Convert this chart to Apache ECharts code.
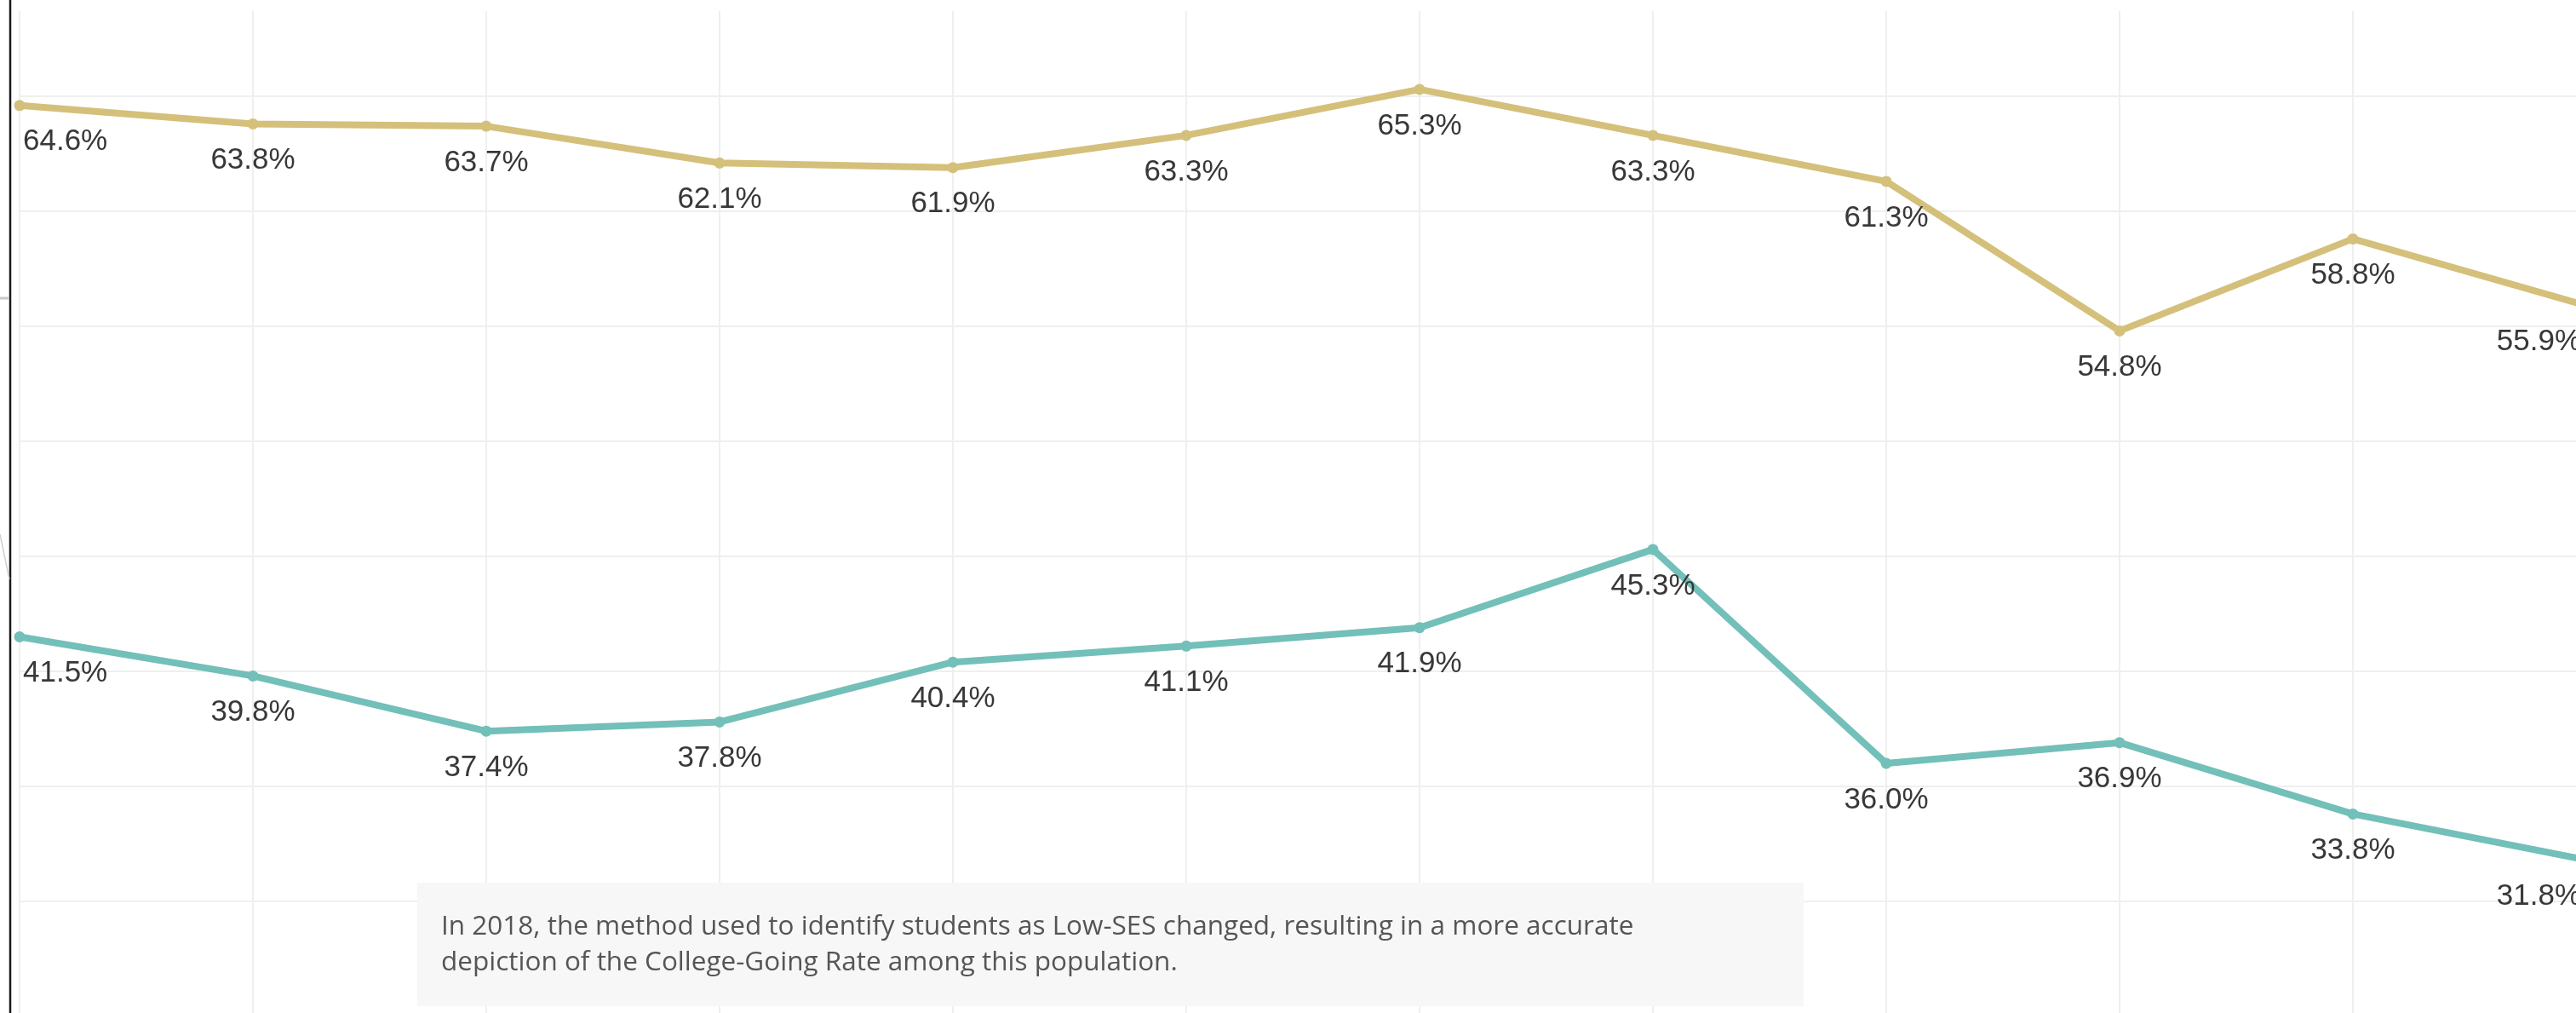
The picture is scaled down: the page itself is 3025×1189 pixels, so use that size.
<!DOCTYPE html>
<html>
<head>
<meta charset="utf-8">
<script src="https://cdn.jsdelivr.net/npm/echarts@6/dist/echarts.min.js"></script>
<style>
html,body{margin:0;padding:0;background:#ffffff;overflow:hidden;width:3025px;height:1189px;}
#chart{position:absolute;left:0;top:-22px;width:3037px;height:1215px;}
</style>
</head>
<body>
<div id="chart"></div>
<script>
// ---- data ----
const years = ['2010','2011','2012','2013','2014','2015','2016','2017','2018','2019','2020','2021'];
const allStudents = [64.6, 63.8, 63.7, 62.1, 61.9, 63.3, 65.3, 63.3, 61.3, 54.8, 58.8, 55.9];
const lowSES = [41.5, 39.8, 37.4, 37.8, 40.4, 41.1, 41.9, 45.3, 36.0, 36.9, 33.8, 31.8];
const yMin = 25, yMax = 70, yStep = 5;
const noteLines = [
  'In 2018, the method used to identify students as Low-SES changed, resulting in a more accurate',
  'depiction of the College-Going Rate among this population.'
];

// ---- styling ----
const GOLD = '#d4c07a';
const TEAL = '#73bfb9';
const LABEL_FONT = 'Liberation Sans, Arial, sans-serif';
const OY = 22; // chart canvas starts 22px above the page

function buildData(values) {
  const n = values.length;
  return values.map((v, i) => {
    const d = { value: v };
    if (i === 0) d.label = { align: 'left', offset: [4, 43] };
    else if (i === n - 1) d.label = { align: 'right', offset: [-6, 43] };
    return d;
  });
}

function lineSeries(name, values, color) {
  return {
    name: name,
    type: 'line',
    data: buildData(values),
    symbol: 'circle',
    symbolSize: 13,
    lineStyle: { color: color, width: 8 },
    itemStyle: { color: color },
    clip: true,
    z: 3,
    label: {
      show: true,
      position: 'inside',
      offset: [0, 43],
      color: '#383838',
      fontSize: 35,
      fontFamily: LABEL_FONT,
      formatter: p => p.value.toFixed(1) + '%'
    },
    emphasis: { disabled: true }
  };
}

const chart = echarts.init(document.getElementById('chart'), null, { renderer: 'canvas' });
chart.setOption({
  animation: false,
  backgroundColor: '#ffffff',
  grid: { left: 23, right: 0, top: 0, bottom: 0, containLabel: false },
  xAxis: {
    type: 'category',
    data: years,
    boundaryGap: false,
    axisLine: { show: false },
    axisTick: { show: false },
    axisLabel: { show: false },
    splitLine: { show: true, lineStyle: { color: '#efefef', width: 2 } }
  },
  yAxis: {
    type: 'value',
    min: yMin,
    max: yMax,
    interval: yStep,
    axisLine: { show: false },
    axisTick: { show: false },
    axisLabel: { show: false },
    splitLine: { show: true, lineStyle: { color: '#efefef', width: 2 } }
  },
  series: [
    lineSeries('All Students', allStudents, GOLD),
    lineSeries('Low-SES', lowSES, TEAL)
  ],
  graphic: [
    { type: 'rect', z: 50, shape: { x: 13, y: 0, width: 3030, height: OY + 13 }, style: { fill: '#ffffff' } },
    { type: 'rect', z: 60, shape: { x: 490, y: OY + 1036, width: 1628, height: 145 }, style: { fill: '#f7f7f7' } },
    { type: 'text', z: 61, x: 518, y: OY + 1088, style: { text: noteLines[0], fill: '#555555', font: '31.5px "Open Sans", Arial, sans-serif', verticalAlign: 'middle', align: 'left' } },
    { type: 'text', z: 61, x: 518, y: OY + 1130, style: { text: noteLines[1], fill: '#555555', font: '31.5px "Open Sans", Arial, sans-serif', verticalAlign: 'middle', align: 'left' } },
    { type: 'line', z: 70, shape: { x1: 12, y1: 0, x2: 12, y2: 1215 }, style: { stroke: '#1a1a1a', lineWidth: 2.5 } },
    { type: 'line', z: 70, shape: { x1: 0, y1: OY + 350, x2: 10, y2: OY + 350 }, style: { stroke: '#c8c8c8', lineWidth: 3 } },
    { type: 'line', z: 70, shape: { x1: 0, y1: OY + 627, x2: 11, y2: OY + 680 }, style: { stroke: '#d0d0d0', lineWidth: 1.5 } }
  ]
});
</script>
</body>
</html>
